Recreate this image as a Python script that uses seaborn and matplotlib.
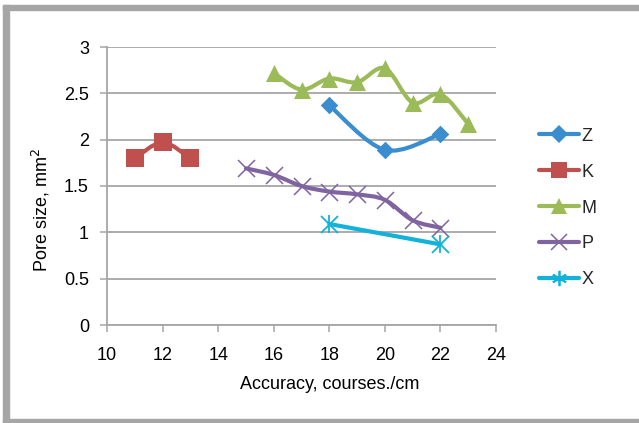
import numpy as np
import pandas as pd
import matplotlib
matplotlib.use("Agg")
import matplotlib.pyplot as plt
from matplotlib.path import Path
from matplotlib.patches import PathPatch, Rectangle
from matplotlib.lines import Line2D
import seaborn as sns

# Pore size (mm^2) against accuracy (courses/cm) for five fabrics
z_x = [18, 20, 22]
z_y = [2.37, 1.89, 2.06]
k_x = [11, 12, 13]
k_y = [1.80, 1.97, 1.80]
m_x = [16, 17, 18, 19, 20, 21, 22, 23]
m_y = [2.72, 2.54, 2.66, 2.62, 2.77, 2.40, 2.49, 2.17]
p_x = [15, 16, 17, 18, 19, 20, 21, 22]
p_y = [1.69, 1.62, 1.50, 1.44, 1.41, 1.35, 1.13, 1.05]
x_x = [18, 22]
x_y = [1.09, 0.87]

series_names = ["Z", "K", "M", "P", "X"]
x_ticks = [10, 12, 14, 16, 18, 20, 22, 24]
y_ticks = [0, 0.5, 1, 1.5, 2, 2.5, 3]
y_tick_labels = ["0", "0.5", "1", "1.5", "2", "2.5", "3"]

sns.set_theme(style="white")
plt.rcParams["font.family"] = ["Liberation Sans", "DejaVu Sans"]

frames = []
for name, xs, ys in [("Z", z_x, z_y), ("K", k_x, k_y), ("M", m_x, m_y),
                     ("P", p_x, p_y), ("X", x_x, x_y)]:
    frames.append(pd.DataFrame({"accuracy": xs, "pore": ys, "fabric": name}))
df = pd.concat(frames, ignore_index=True)

colors = {"Z": "#3A8ECF", "K": "#C0504D", "M": "#9BBB59",
          "P": "#8064A2", "X": "#12B2DB"}
line_w = 3.0

fig = plt.figure(figsize=(6.39, 4.23), dpi=100)
ax = fig.add_axes([107 / 639, 1 - 325 / 423, (496 - 107) / 639, (325 - 47) / 423])

# Outer chart frame (grey border on left, top and bottom)
border = "#A6A6A6"
fig.patches.append(Rectangle((3 / 639, 1 - 10 / 423), 1.0, 5 / 423,
                             transform=fig.transFigure, color=border, zorder=0))
fig.patches.append(Rectangle((3 / 639, 0), 6 / 639, 1 - 5 / 423,
                             transform=fig.transFigure, color=border, zorder=0))
fig.patches.append(Rectangle((3 / 639, 0), 1.0, 4 / 423,
                             transform=fig.transFigure, color=border, zorder=0))


def smooth_path(xs, ys):
    """Bezier path through the points with Catmull-Rom style tangents."""
    pts = np.column_stack([xs, ys]).astype(float)
    n = len(pts)
    verts = [pts[0]]
    codes = [Path.MOVETO]
    for i in range(n - 1):
        p0 = pts[i - 1] if i > 0 else pts[i]
        p1 = pts[i]
        p2 = pts[i + 1]
        p3 = pts[i + 2] if i + 2 < n else pts[i + 1]
        c1 = p1 + (p2 - p0) / 6.0
        c2 = p2 - (p3 - p1) / 6.0
        verts += [c1, c2, p2]
        codes += [Path.CURVE4] * 3
    return Path(verts, codes)


# Smoothed connecting lines
for name in series_names:
    sub = df[df["fabric"] == name]
    patch = PathPatch(smooth_path(sub["accuracy"].values, sub["pore"].values),
                      fill=False, lw=line_w, edgecolor=colors[name],
                      capstyle="round", joinstyle="round", zorder=3)
    ax.add_patch(patch)

# Markers
marker_kw = {
    "Z": dict(marker="D", s=80, linewidth=0),
    "K": dict(marker="s", s=150, linewidth=0),
    "M": dict(marker="^", s=150, linewidth=0),
    "P": dict(marker="x", s=150, linewidth=1.1),
}
for name, kw in marker_kw.items():
    sub = df[df["fabric"] == name]
    sns.scatterplot(data=sub, x="accuracy", y="pore", color=colors[name],
                    ax=ax, zorder=4, legend=False, **kw)
sub = df[df["fabric"] == "X"]
for mk in ["x", "|"]:
    sns.scatterplot(data=sub, x="accuracy", y="pore", color=colors["X"],
                    marker=mk, s=150, linewidth=1.3, ax=ax, zorder=4, legend=False)

ax.set_xlim(10, 24)
ax.set_ylim(0, 3)
ax.set_xticks(x_ticks)
ax.set_xticklabels([str(t) for t in x_ticks])
ax.set_yticks(y_ticks)
ax.set_yticklabels(y_tick_labels)

grid_c = "#A6A6A6"
ax.grid(axis="y", color=grid_c, lw=1.3, zorder=1)
ax.set_axisbelow(True)
for side in ["top", "right"]:
    ax.spines[side].set_visible(False)
for side in ["left", "bottom"]:
    ax.spines[side].set_color(grid_c)
    ax.spines[side].set_linewidth(1.3)
ax.tick_params(axis="both", which="major", labelsize=13, colors="black",
               length=5, width=1.1, color=grid_c, direction="out")
ax.tick_params(axis="x", pad=11, bottom=True)
ax.tick_params(axis="y", pad=8, left=True)

ax.set_xlabel("Accuracy, courses./cm", fontsize=13, color="black")
ax.set_ylabel("Pore size, mm$^2$", fontsize=13, color="black")
ax.xaxis.set_label_coords((330 - 107) / (496 - 107), -(376 - 325) / (325 - 47))
ax.yaxis.set_label_coords(-(107 - 52) / (496 - 107), (325 - 210) / (325 - 47))

# Legend
handles = []
for name in series_names:
    if name == "X":
        h = Line2D([], [], color=colors[name], lw=line_w, marker=(6, 2, 0),
                   markersize=11, markeredgewidth=1.3)
    else:
        mk = {"Z": "D", "K": "s", "M": "^", "P": "x"}[name]
        ms = {"Z": 9, "K": 12, "M": 12, "P": 12}[name]
        h = Line2D([], [], color=colors[name], lw=line_w, marker=mk,
                   markersize=ms, markeredgewidth=1.1 if mk == "x" else 0)
    handles.append(h)
fig.legend(handles, series_names, loc="center left",
           bbox_to_anchor=(530 / 639, 1 - 208 / 423), frameon=False,
           fontsize=13, handlelength=2.2, handletextpad=0.15,
           labelspacing=1.05, borderpad=0)

fig.savefig("out.png", dpi=100)
